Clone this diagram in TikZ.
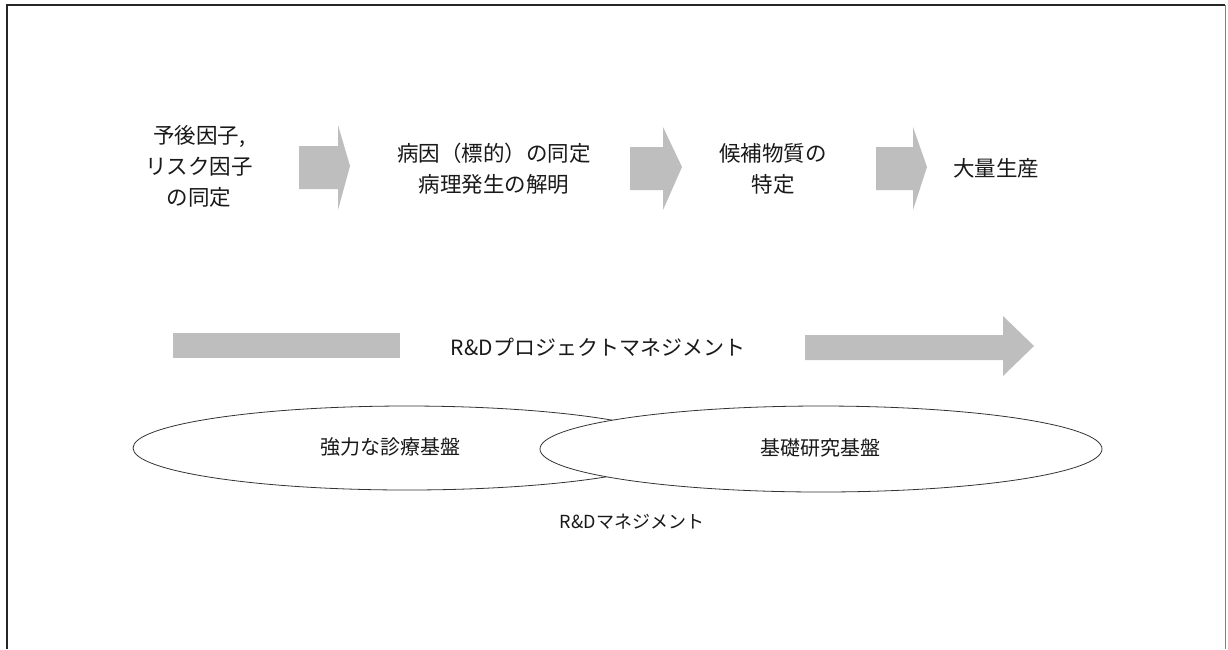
\documentclass[tikz,border=0pt]{standalone}
\usepackage{fontspec}
\setmainfont{Noto Sans CJK JP}
\usetikzlibrary{shapes.geometric}
\definecolor{arrgray}{RGB}{190,190,190}
\tikzset{
  lbl/.style={font=\fontsize{21.5}{31}\selectfont, align=center, inner sep=0pt, text=black!90},
  lbl2/.style={font=\fontsize{19}{28}\selectfont, inner sep=0pt, text=black!90},
  blockarr/.style={fill=arrgray, draw=none},
  oval/.style={ellipse, draw=black!80, line width=0.8pt, fill=white, inner sep=0pt},
}
\begin{document}
\begin{tikzpicture}[x=1pt,y=-1pt]
\useasboundingbox (0,0) rectangle (1228,649);
\fill[white] (0,0) rectangle (1228,649);
% frame
\draw[black!85, line width=1.6pt] (7,649) -- (7,5) -- (1225,5);
\draw[black!50, line width=0.8pt] (1225,5) -- (1225,649);

% top row texts
\node[lbl] (t1) at (199,166) {予後因子,\\リスク因子\\の同定};
\node[lbl] (t2) at (494,169) {病因（標的）の同定\\病理発生の解明};
\node[lbl] (t3) at (773,169) {候補物質の\\特定};
\node[lbl] (t4) at (996,168) {大量生産};

% block arrows
\fill[blockarr] (299,146) -- (338,146) -- (338,125) -- (350,166) -- (338,210) -- (338,189) -- (299,189) -- cycle;
\fill[blockarr] (630,147) -- (663,147) -- (663,127) -- (682,167) -- (663,210) -- (663,190) -- (630,190) -- cycle;
\fill[blockarr] (876,147) -- (913,147) -- (913,127) -- (927,167) -- (913,210) -- (913,190) -- (876,190) -- cycle;

% project management bar
\fill[blockarr] (173,333) rectangle (400,358);
\node[lbl2, font=\fontsize{21}{28}\selectfont] (pm) at (598,347) {R\&Dプロジェクトマネジメント};
\fill[blockarr] (805,335) -- (1003,335) -- (1003,316) -- (1034,346) -- (1003,376) -- (1003,360) -- (805,360) -- cycle;

% ellipses
\node[oval, minimum width=548pt, minimum height=84pt] (e1) at (407,448) {};
\node[oval, minimum width=562pt, minimum height=86pt] (e2) at (821,449) {};
\node[lbl2, font=\fontsize{20}{28}\selectfont] (s1) at (390,447) {強力な診療基盤};
\node[lbl2, font=\fontsize{20}{28}\selectfont] (s2) at (820,448) {基礎研究基盤};
\node[lbl2, font=\fontsize{18}{28}\selectfont] (rd) at (632,522) {R\&Dマネジメント};
\end{tikzpicture}
\end{document}
